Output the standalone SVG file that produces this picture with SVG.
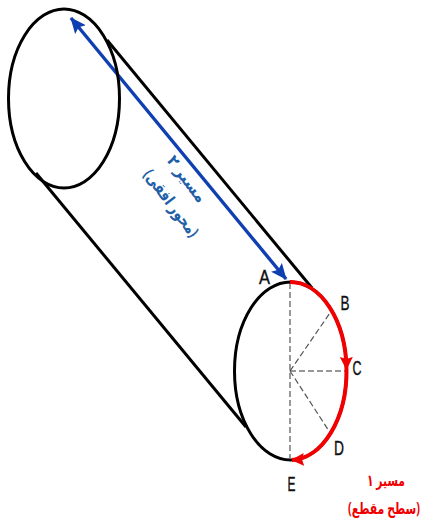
<svg xmlns="http://www.w3.org/2000/svg" width="422" height="524" viewBox="0 0 422 524">
<defs>
<marker id="bh" markerUnits="userSpaceOnUse" markerWidth="18" markerHeight="16" refX="15" refY="7" orient="auto-start-reverse"><path d="M0 0L16 7L0 14L3 7Z" fill="#0f3fb0"/></marker>
<marker id="rh" markerUnits="userSpaceOnUse" markerWidth="16" markerHeight="14" refX="12" refY="6.500" orient="auto"><path d="M0 0L13 6.500L0 13L2 6.500Z" fill="#f00000"/></marker>
</defs>
<style>
.k{fill:none;stroke:#000;stroke-width:3}
.d{fill:none;stroke:#555;stroke-width:1.200;stroke-dasharray:6 3}
.r{fill:none;stroke:#f00000;stroke-width:4}
.l{font-family:"Liberation Sans",Arial,sans-serif;font-size:21px;fill:#111;text-anchor:middle;stroke:#111;stroke-width:.4}
.fa{font-family:"Noto Sans","DejaVu Sans",sans-serif;font-weight:700;font-size:16px;text-anchor:middle}
</style>
<g id="connectors">
<path class="k" d="M107 40L312 288"/>
<path class="k" d="M36 173L246 427"/>
<path class="d" d="M290 283V458"/>
<path class="d" d="M290 371L332 310"/>
<path class="d" style="stroke:#333" d="M290 371H346"/>
<path class="d" d="M290 371L329 431"/>
<path d="M71 18L286 279" fill="none" stroke="#0f3fb0" stroke-width="3.400" marker-start="url(#bh)" marker-end="url(#bh)"/>
</g>
<g id="cylinder-top"><ellipse class="k" cx="64" cy="98.500" rx="55.500" ry="89.500"/></g>
<g id="cylinder-bottom">
<ellipse class="k" cx="290.500" cy="371" rx="56" ry="89"/>
<path class="r" d="M290 282A56 89 0 0 1 346.500 369" marker-end="url(#rh)"/>
<path class="r" d="M346.500 369A56 89 0 0 1 292 460" marker-end="url(#rh)"/>
</g>
<g id="labels">
<text class="l" x="264.500" y="284" textLength="11" lengthAdjust="spacingAndGlyphs">A</text>
<text class="l" x="345" y="310" textLength="9" lengthAdjust="spacingAndGlyphs">B</text>
<text class="l" x="357" y="375" textLength="9" lengthAdjust="spacingAndGlyphs">C</text>
<text class="l" x="339" y="455" textLength="10" lengthAdjust="spacingAndGlyphs">D</text>
<text class="l" x="291.500" y="491" textLength="8" lengthAdjust="spacingAndGlyphs">E</text>
</g>
<g id="path2-label" fill="#1f5fa8" transform="rotate(53 176 192)">
<text class="fa" x="172" y="181" direction="rtl" textLength="54" lengthAdjust="spacingAndGlyphs">مسیر ۲</text>
<text class="fa" x="182" y="208" direction="rtl" textLength="80" lengthAdjust="spacingAndGlyphs">(محور افقی)</text>
</g>
<g id="path1-label" fill="#f00000">
<text class="fa" x="386" y="486" direction="rtl" textLength="38" lengthAdjust="spacingAndGlyphs">مسیر ۱</text>
<text class="fa" direction="rtl" transform="translate(384 514) scale(.68 1)">(سطح مقطع)</text>
</g>
</svg>
